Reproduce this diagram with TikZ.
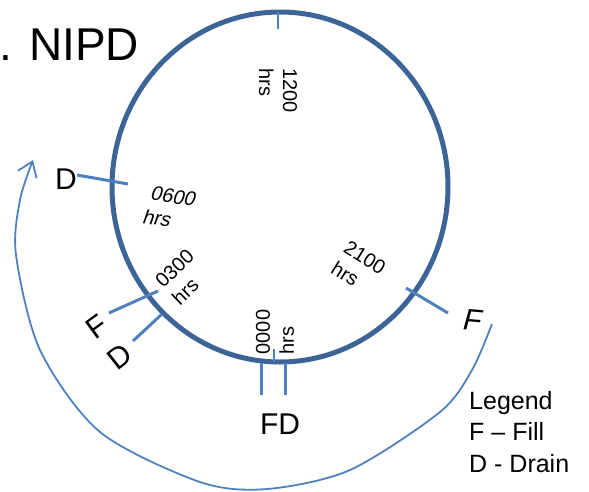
\documentclass[tikz,border=0pt]{standalone}
\usepackage{fontspec}
\setmainfont{Liberation Sans}
\usepackage{tikz}
\usetikzlibrary{arrows.meta}
\definecolor{ringBlue}{RGB}{60, 100, 150}
\definecolor{tickBlue}{RGB}{79, 129, 189}

\begin{document}
\begin{tikzpicture}[x=1pt, y=1pt,
    tick/.style={tickBlue, line width=3pt},
    hrs/.style={align=left, inner sep=0pt, font=\fontsize{20}{24}\selectfont},
    letter/.style={inner sep=0pt, font=\fontsize{30}{30}\selectfont}]
        \useasboundingbox (0,0) rectangle (589,-491);
        \node[anchor=base west, inner sep=0pt, font=\fontsize{46}{46}\selectfont] (title) at (-1,-60) {. NIPD};
        \draw[ringBlue, line width=5pt] (280,-187) ellipse [x radius=168pt, y radius=175pt];
        \draw[tickBlue, line width=2pt] (278,-12) -- (278,-29);
        \draw[tickBlue, line width=2pt] (274,-349) -- (274,-362);
        \draw[tick] (77,-175) -- (128,-184);
        \draw[tick] (109,-313) -- (158,-291);
        \draw[tick] (133,-341) -- (162,-314);
        \draw[tick] (406,-288) -- (448,-313);
        \draw[tick] (261,-363) -- (261,-395);
        \draw[tick] (285,-363) -- (285,-395);
        \node[hrs, rotate=-90] (noon) at (278,-90.5) {1200\\hrs};
        \node[hrs, rotate=-8, xslant=0.2] (six) at (170,-208) {0600\\hrs};
        \node[hrs, rotate=44] (three) at (183,-277) {0300\\hrs};
        \node[hrs, rotate=-32] (nine) at (358.6,-268) {2100\\hrs};
        \node[hrs, rotate=90] (midnight) at (275,-332) {0000\\hrs};
        \node[letter] (drainSix) at (66,-179) {D};
        \node[letter, rotate=36] (fillThree) at (97,-327) {F};
        \node[letter, rotate=38] (drainThree) at (120,-357) {D};
        \node[letter, rotate=-5, xslant=0.18] (fillNine) at (473,-320) {F};
        \node[letter] (fillDrain) at (280,-424) {FD};
        \draw[tickBlue, line width=1.8pt, -{Straight Barb[length=14pt, width=20pt]}]
          plot[smooth] coordinates {(492,-324) (472,-370) (440,-412) (350,-470) (267,-489)
            (200,-482) (100,-432) (40,-350) (16,-255) (20,-200) (33,-160)};
        \node[anchor=north west, align=left, inner sep=0pt, font=\fontsize{25}{31.5}\selectfont] (legend)
          at (469,-391) {Legend\\F -- Fill\\D - Drain};
      \end{tikzpicture}
\end{document}
